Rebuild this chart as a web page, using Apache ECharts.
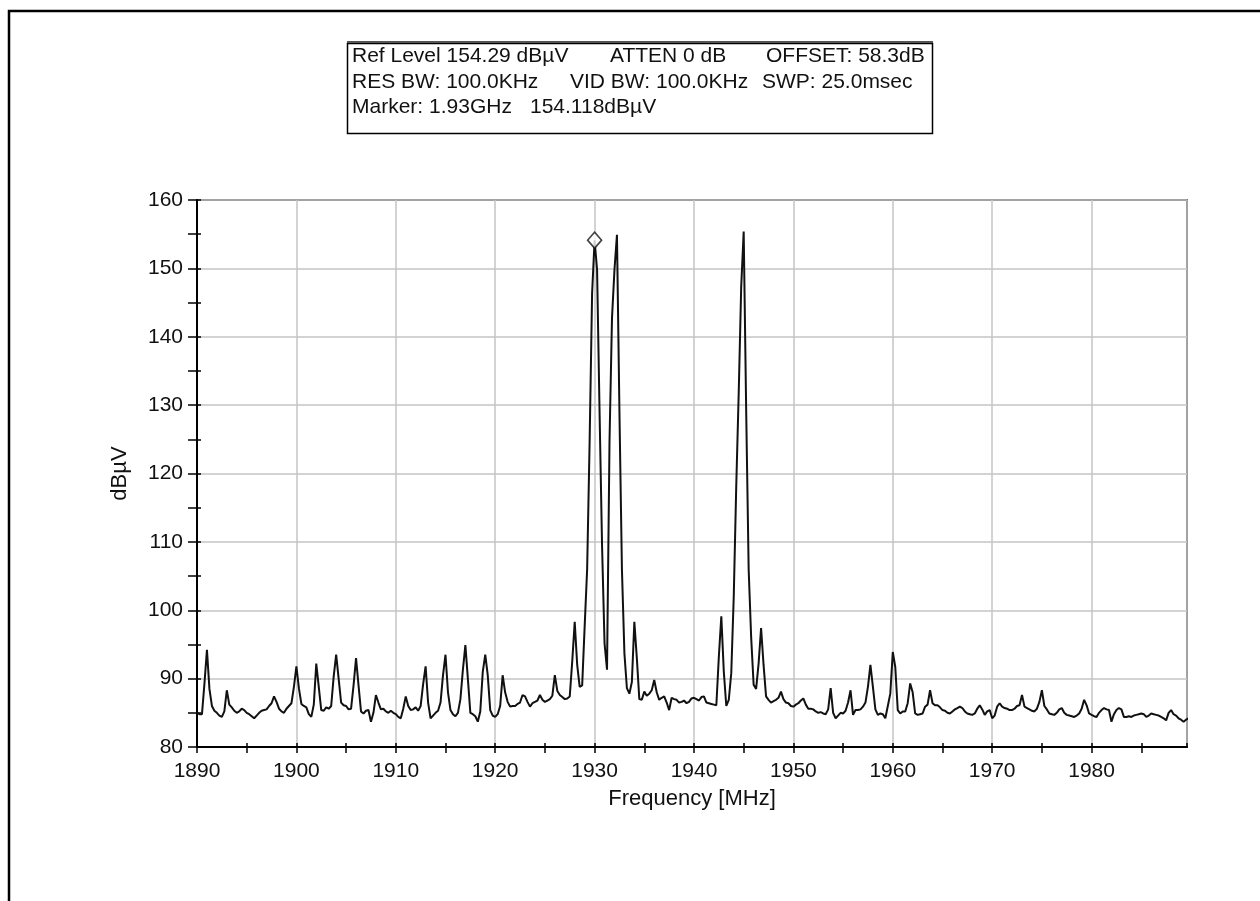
<!DOCTYPE html>
<html>
<head>
<meta charset="utf-8">
<script src="https://cdn.jsdelivr.net/npm/echarts@6/dist/echarts.min.js"></script>
<style>
  html, body { margin: 0; padding: 0; background: #ffffff; }
  #chart { width: 1260px; height: 901px; }
</style>
</head>
<body>
<div id="chart"></div>
<script>
// Spectrum sweep: one level reading every 0.25 MHz, grouped by 10 MHz block
const freqStart = 1890;
const freqStep = 0.25;

const level1890 = [
  85.0, 84.8, 84.8, 89.3, 94.2, 88.5, 86.0, 85.3,
  85.0, 84.6, 84.4, 85.2, 88.3, 86.2, 85.8, 85.3,
  85.0, 85.2, 85.6, 85.4, 85.0, 84.8, 84.5, 84.2,
  84.6, 85.0, 85.3, 85.4, 85.5, 86.0, 86.4, 87.4,
  86.6, 85.6, 85.2, 85.0, 85.6, 86.0, 86.4, 88.8
];
const level1900 = [
  91.8, 88.6, 86.3, 86.0, 85.8, 84.8, 84.4, 86.2,
  92.2, 88.8, 85.4, 85.3, 85.8, 85.6, 86.0, 90.3,
  93.5, 90.0, 86.5, 86.1, 86.0, 85.5, 85.6, 89.0,
  93.0, 89.0, 85.2, 84.9, 85.3, 85.4, 83.7, 85.0,
  87.6, 86.5, 85.5, 85.6, 85.2, 85.0, 85.3, 85.0
];
const level1910 = [
  84.8, 84.4, 84.2, 85.6, 87.4, 86.0, 85.4, 85.5,
  85.8, 85.3, 86.0, 89.2, 91.8, 86.5, 84.2, 84.6,
  85.0, 85.3, 86.5, 90.5, 93.5, 88.0, 85.4, 84.8,
  84.5, 85.0, 87.0, 91.3, 94.9, 90.0, 85.0, 84.8,
  84.5, 83.7, 85.2, 91.0, 93.5, 90.5, 85.4, 84.6
];
const level1920 = [
  84.4, 84.8, 86.0, 90.5, 88.0, 86.6, 85.9, 86.0,
  86.0, 86.3, 86.5, 87.6, 87.4, 86.6, 85.9, 86.4,
  86.6, 86.8, 87.6, 86.9, 86.6, 86.8, 87.0, 87.5,
  90.5, 88.2, 87.6, 87.3, 87.0, 87.1, 87.4, 92.5,
  98.3, 92.0, 88.8, 89.0, 97.6, 106.0, 124.6, 146.4
];
const level1930 = [
  154.118, 149.8, 129.0, 109.5, 95.2, 91.3, 124.6, 142.7,
  149.8, 154.9, 129.0, 106.0, 93.7, 88.6, 87.8, 89.5,
  98.3, 93.0, 87.0, 86.9, 88.1, 87.5, 87.8, 88.3,
  89.8, 88.0, 86.9, 87.2, 87.4, 86.5, 85.4, 87.2,
  87.0, 86.9, 86.5, 86.6, 86.8, 86.4, 86.6, 87.1
];
const level1940 = [
  87.2, 87.0, 86.8, 87.3, 87.4, 86.5, 86.4, 86.3,
  86.2, 86.1, 93.2, 99.1, 91.0, 86.0, 86.9, 90.8,
  102.0, 118.1, 131.8, 147.3, 155.4, 129.3, 106.0, 96.1,
  89.1, 88.5, 92.2, 97.4, 92.0, 87.4, 86.9, 86.5,
  86.7, 86.9, 87.2, 88.1, 87.0, 86.5, 86.4, 86.0
];
const level1950 = [
  85.9, 86.2, 86.4, 86.8, 87.1, 86.2, 85.6, 85.6,
  85.5, 85.2, 85.0, 85.1, 84.9, 84.8, 85.5, 88.6,
  85.0, 84.2, 84.6, 85.0, 84.9, 85.3, 86.5, 88.3,
  84.7, 85.4, 85.4, 85.5, 85.9, 86.5, 88.8, 92.0,
  88.8, 85.5, 84.7, 84.9, 84.8, 84.2, 86.0, 87.8
];
const level1960 = [
  93.9, 91.7, 85.4, 84.9, 85.2, 85.2, 86.4, 89.3,
  88.0, 84.9, 84.7, 84.8, 84.9, 85.9, 86.2, 88.3,
  86.4, 86.1, 86.1, 85.8, 85.4, 85.3, 85.0, 84.9,
  85.2, 85.5, 85.7, 85.9, 85.7, 85.2, 84.9, 84.8,
  84.7, 84.9, 85.6, 86.1, 85.5, 84.7, 85.2, 85.4
];
const level1970 = [
  84.2, 84.6, 85.9, 86.4, 85.9, 85.7, 85.6, 85.4,
  85.4, 85.6, 86.0, 86.1, 87.6, 85.9, 85.7, 85.5,
  85.3, 85.2, 85.6, 86.6, 88.3, 86.0, 85.5, 84.9,
  84.8, 84.7, 85.0, 85.5, 85.7, 85.0, 84.7, 84.6,
  84.5, 84.4, 84.6, 84.9, 85.6, 86.9, 86.1, 84.9
];
const level1980 = [
  84.7, 84.5, 84.4, 85.0, 85.4, 85.7, 85.5, 85.4,
  83.7, 84.8, 85.4, 85.7, 85.5, 84.4, 84.4, 84.5,
  84.4, 84.6, 84.7, 84.8, 84.9, 84.8, 84.4, 84.6,
  84.9, 84.8, 84.7, 84.6, 84.4, 84.2, 83.9, 85.0,
  85.4, 84.8, 84.6, 84.2, 84.0, 83.7, 84.0, 84.2
];

// Marker readout
const markerFreq = 1930;
const markerLevel = 154.118;

// Instrument settings shown in the readout box, one list per row
const readoutRow1 = ['Ref Level 154.29 dB\u00B5V', 'ATTEN 0 dB', 'OFFSET: 58.3dB'];
const readoutRow2 = ['RES BW: 100.0KHz', 'VID BW: 100.0KHz', 'SWP: 25.0msec'];
const readoutRow3 = ['Marker: 1.93GHz', '154.118dB\u00B5V'];

const xTitle = 'Frequency [MHz]';
const yTitle = 'dB\u00B5V';

const levels = [].concat(level1890, level1900, level1910, level1920, level1930,
  level1940, level1950, level1960, level1970, level1980);
const trace = levels.map((v, i) => [freqStart + i * freqStep, v]);

const FONT = '"Liberation Sans", Arial, sans-serif';
const INK = '#111111';
const xMin = 1890, xMax = 1989.6, yMin = 80, yMax = 160;

// Column start positions of the readout fields, per row
const rowLayout = [
  { top: 46, cols: [352, 610, 766] },
  { top: 71.5, cols: [352, 570, 762] },
  { top: 97, cols: [352, 530] }
];
const readoutRows = [readoutRow1, readoutRow2, readoutRow3];

const chart = echarts.init(document.getElementById('chart'), null, { renderer: 'canvas' });

const hiddenAxisBits = {
  axisLine: { show: false }, axisLabel: { show: false }, splitLine: { show: false }
};

const readoutText = [];
readoutRows.forEach((row, r) => {
  row.forEach((t, c) => {
    readoutText.push({
      type: 'text', silent: true,
      left: rowLayout[r].cols[c], top: rowLayout[r].top,
      style: { text: t, fontFamily: FONT, fontSize: 21, fill: INK }
    });
  });
});

const option = {
  backgroundColor: '#ffffff',
  animation: false,
  grid: {
    left: 197, top: 200, right: 73, bottom: 154,
    show: true, borderColor: '#000000', borderWidth: 1.5, backgroundColor: 'transparent'
  },
  xAxis: [
    {
      type: 'value', min: xMin, max: xMax, interval: 5,
      name: xTitle, nameLocation: 'middle', nameGap: 41,
      nameTextStyle: { fontFamily: FONT, fontSize: 22, color: INK },
      axisLine: { show: true, lineStyle: { color: '#000', width: 2 } },
      axisTick: { show: true, inside: false, length: 6, lineStyle: { color: '#000', width: 1.5 } },
      axisLabel: {
        fontFamily: FONT, fontSize: 21, color: INK, margin: 14, showMaxLabel: false,
        formatter: v => (v % 10 === 0 ? String(v) : '')
      },
      splitLine: { show: false }
    },
    Object.assign({
      type: 'value', min: xMin, max: xMax, interval: 5, position: 'bottom',
      axisTick: { show: true, inside: true, length: 4, lineStyle: { color: '#000', width: 1.5 } }
    }, hiddenAxisBits),
    {
      type: 'value', min: xMin, max: xMax, interval: 10, position: 'bottom',
      axisLine: { show: false }, axisLabel: { show: false }, axisTick: { show: false },
      splitLine: { show: true, lineStyle: { color: '#c4c4c4', width: 1.5 } }
    }
  ],
  yAxis: [
    {
      type: 'value', min: yMin, max: yMax, interval: 10,
      name: yTitle, nameLocation: 'middle', nameGap: 66,
      nameTextStyle: { fontFamily: FONT, fontSize: 22, color: INK },
      axisLine: { show: true, lineStyle: { color: '#000', width: 2 } },
      axisTick: { show: true, inside: false, length: 9, lineStyle: { color: '#000', width: 1.5 } },
      minorTick: { show: true, splitNumber: 2, length: 9, lineStyle: { color: '#000', width: 1.5 } },
      axisLabel: { fontFamily: FONT, fontSize: 21, color: INK, margin: 14 },
      splitLine: { show: true, lineStyle: { color: '#c4c4c4', width: 1.5 } }
    },
    Object.assign({
      type: 'value', min: yMin, max: yMax, interval: 10, position: 'left',
      axisTick: { show: true, inside: true, length: 4, lineStyle: { color: '#000', width: 1.5 } },
      minorTick: { show: true, splitNumber: 2, length: 4, lineStyle: { color: '#000', width: 1.5 } }
    }, hiddenAxisBits)
  ],
  series: [
    {
      type: 'line', xAxisIndex: 0, yAxisIndex: 0, data: trace,
      showSymbol: false, symbol: 'none', clip: true,
      lineStyle: { color: INK, width: 2 },
      z: 3
    },
    {
      type: 'scatter', xAxisIndex: 0, yAxisIndex: 0,
      data: [[markerFreq, markerLevel]],
      symbol: 'diamond', symbolSize: [14, 16],
      itemStyle: { color: '#ffffff', borderColor: INK, borderWidth: 1.6 },
      z: 4
    }
  ],
  graphic: [
    {
      type: 'rect', silent: true,
      shape: { x: 9, y: 11, width: 1300, height: 950 },
      style: { fill: 'none', stroke: '#000000', lineWidth: 2.5 }
    },
    {
      type: 'rect', silent: true,
      shape: { x: 347.5, y: 43.5, width: 585, height: 90 },
      style: { fill: '#ffffff', stroke: '#000000', lineWidth: 1.5 }
    },
    {
      type: 'line', silent: true,
      shape: { x1: 347, y1: 42, x2: 933, y2: 42 },
      style: { stroke: '#555555', lineWidth: 2 }
    }
  ].concat(readoutText)
};

chart.setOption(option);
</script>
</body>
</html>
